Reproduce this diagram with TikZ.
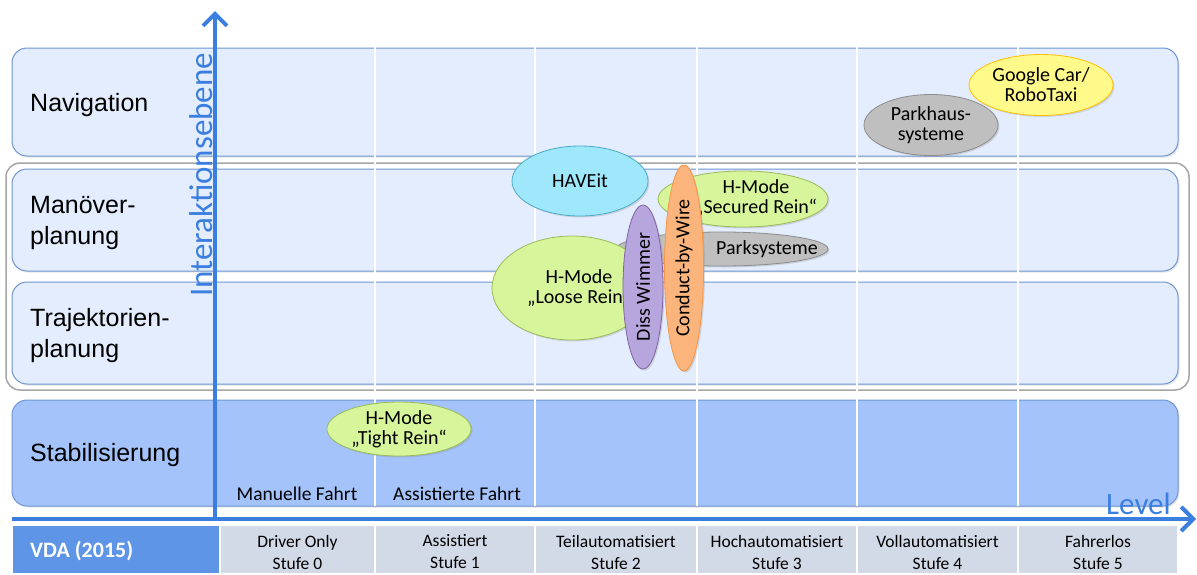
\documentclass[tikz,border=0pt]{standalone}
\usepackage{fontspec}
\setmainfont{Carlito}
\newfontfamily\arialf{Liberation Sans}
\usetikzlibrary{shapes.geometric,arrows.meta,shadows}
\definecolor{boxfill}{HTML}{E3EDFD}
\definecolor{boxline}{HTML}{6F96D1}
\definecolor{stabfill}{HTML}{A4C3FA}
\definecolor{axisblue}{HTML}{3A7EE0}
\definecolor{vdablue}{HTML}{5F95E6}
\definecolor{cellfill}{HTML}{D2D9E7}
\definecolor{groupline}{HTML}{A6A6A6}
\definecolor{cyanfill}{HTML}{9FE7FA}
\definecolor{cyanline}{HTML}{4BACC6}
\definecolor{greenfill}{HTML}{D7F59B}
\definecolor{greenline}{HTML}{9BBB59}
\definecolor{grayfill}{HTML}{BFBFBF}
\definecolor{grayline}{HTML}{8C8C8C}
\definecolor{purplefill}{HTML}{B7A6DE}
\definecolor{purpleline}{HTML}{8064A2}
\definecolor{orangefill}{HTML}{FBB47C}
\definecolor{orangeline}{HTML}{F79646}
\definecolor{yellowfill}{HTML}{FFFA8A}
\definecolor{yellowline}{HTML}{FFC000}
\tikzset{
  rowbox/.style={draw=boxline, fill=boxfill, line width=1pt, rounded corners=15pt,
    drop shadow={opacity=0.2, shadow xshift=1.5pt, shadow yshift=-1.5pt}},
  rowlabel/.style={font=\arialf\fontsize{25}{31}\selectfont, anchor=west, align=left, inner sep=0pt},
  colline/.style={draw=white, line width=1.2pt},
  elltext/.style={font=\fontsize{20}{20}\selectfont, align=center, inner sep=0pt},
  ell/.style={ellipse, draw, line width=0.8pt, inner sep=0pt, align=center,
    font=\fontsize{20}{20}\selectfont,
    drop shadow={opacity=0.25, shadow xshift=1.5pt, shadow yshift=-1.5pt}},
  cell/.style={draw=white, line width=1.5pt, fill=cellfill},
  celltext/.style={font=\fontsize{17.5}{22}\selectfont, align=center, inner sep=0pt},
  axis/.style={draw=axisblue, line width=4pt,
    -{Straight Barb[length=12pt,width=24pt]}},
  axislabel/.style={text=axisblue, inner sep=0pt}
}
\begin{document}
\begin{tikzpicture}[x=1pt,y=-1pt]
\useasboundingbox[fill=white] (0,0) rectangle (1197,574);

% row boxes
\path[rowbox] (12,48) rectangle (1178,156);
\draw[groupline, line width=1.5pt, rounded corners=14pt] (6,163) rectangle (1189,390);
\path[rowbox] (12,169) rectangle (1178,271);
\path[rowbox] (12,282) rectangle (1178,384);
\path[rowbox, fill=stabfill] (12,400) rectangle (1178,506);

% column separators
\foreach \cx in {375,535,697,857,1018} {
  \draw[colline] (\cx,40) -- (\cx,506);
}

% row labels
\node[rowlabel] (lnav) at (30,105.5) {Navigation};
\node[rowlabel] (lman) at (30,223) {Manöver-\\planung};
\node[rowlabel] (ltraj) at (30,336) {Trajektorien-\\planung};
\node[rowlabel] (lstab) at (30,455.5) {Stabilisierung};

% level labels inside Stabilisierung
\node[font=\fontsize{19.5}{22}\selectfont, inner sep=0pt] (manuell) at (297,494) {Manuelle Fahrt};
\node[font=\fontsize{19.5}{22}\selectfont, inner sep=0pt] (assist) at (457,494) {Assistierte Fahrt};

% ellipses
\node[ell, fill=cyanfill, draw=cyanline, minimum width=136pt, minimum height=70pt] (haveit) at (580,181) {HAVEit};
\node[ell, fill=greenfill, draw=greenline, minimum width=170pt, minimum height=56pt] (secured) at (743,199) {};
\node[elltext] (securedtext) at (756,198) {H-Mode\\„Secured Rein“};
\node[ell, fill=grayfill, draw=grayline, minimum width=212pt, minimum height=34pt] (parks) at (722,249) {};
\node[elltext] (parkstext) at (767,249) {Parksysteme};
\node[ell, fill=greenfill, draw=greenline, minimum width=160pt, minimum height=104pt] (loose) at (572,288) {};
\node[elltext] (loosetext) at (579,288) {H-Mode\\„Loose Rein“};
\node[ell, fill=purplefill, draw=purpleline, rotate=90, minimum width=164pt, minimum height=40pt] (diss) at (643,287) {Diss Wimmer};
\node[ell, fill=orangefill, draw=orangeline, rotate=90, minimum width=206pt, minimum height=39pt] (cbw) at (684,268) {Conduct-by-Wire};
\node[ell, fill=greenfill, draw=greenline, minimum width=144pt, minimum height=54pt] (tight) at (399,429) {H-Mode\\„Tight Rein“};
\node[ell, fill=grayfill, draw=grayline, minimum width=134pt, minimum height=61pt] (parkhaus) at (931,125) {Parkhaus-\\systeme};
\node[ell, fill=yellowfill, draw=yellowline, minimum width=144pt, minimum height=61pt] (google) at (1041,85) {Google Car/\\RoboTaxi};

% VDA row
\path[cell, fill=vdablue] (12,525) rectangle (220,574);
\path[cell] (220,525) rectangle (375,574);
\path[cell] (375,525) rectangle (535,574);
\path[cell] (535,525) rectangle (697,574);
\path[cell] (697,525) rectangle (857,574);
\path[cell] (857,525) rectangle (1018,574);
\path[cell] (1018,525) rectangle (1178,574);
\node[font=\bfseries\fontsize{22}{24}\selectfont, text=white, anchor=west, inner sep=0pt] (vda) at (30,551) {VDA (2015)};
\node[celltext] (s0) at (297.5,552) {Driver Only\\Stufe 0};
\node[celltext] (s1) at (455,552) {Assistiert\\Stufe 1};
\node[celltext] (s2) at (616,552) {Teilautomatisiert\\Stufe 2};
\node[celltext] (s3) at (777,552) {Hochautomatisiert\\Stufe 3};
\node[celltext] (s4) at (937.5,552) {Vollautomatisiert\\Stufe 4};
\node[celltext] (s5) at (1098,552) {Fahrerlos\\Stufe 5};

% axes
\coordinate (xstart) at (12,519);
\coordinate (xend) at (1196,519);
\coordinate (ystart) at (215,521);
\coordinate (yend) at (215,11);
\draw[axis] (xstart) -- (xend);
\draw[axis] (ystart) -- (yend);
\node[axislabel, font=\fontsize{33}{35}\selectfont, rotate=90, anchor=base] (ylabel) at (212,175) {Interaktionsebene};
\node[axislabel, font=\fontsize{31}{33}\selectfont, anchor=base west] (xlabel) at (1106,514) {Level};
\end{tikzpicture}
\end{document}
